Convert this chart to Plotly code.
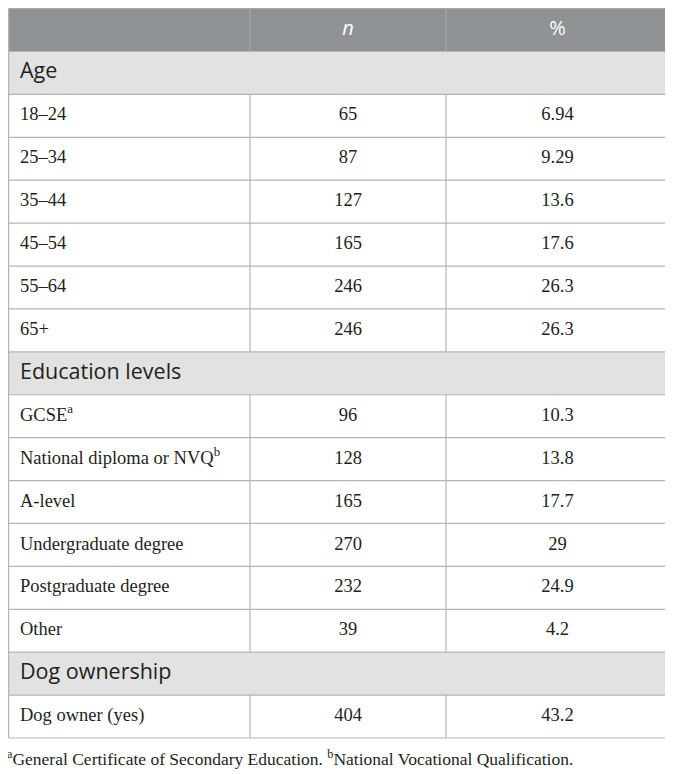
import plotly.graph_objects as go

# table content
header = ["", "<i>n</i>", "%"]
labels = ["Age", "18–24", "25–34", "35–44", "45–54", "55–64", "65+",
          "Education levels", "GCSE<sup>a</sup>", "National diploma or NVQ<sup>b</sup>",
          "A-level", "Undergraduate degree", "Postgraduate degree", "Other",
          "Dog ownership", "Dog owner (yes)"]
n_vals = ["", "65", "87", "127", "165", "246", "246",
          "", "96", "128", "165", "270", "232", "39",
          "", "404"]
pct_vals = ["", "6.94", "9.29", "13.6", "17.6", "26.3", "26.3",
            "", "10.3", "13.8", "17.7", "29", "24.9", "4.2",
            "", "43.2"]
section_rows = ["Age", "Education levels", "Dog ownership"]
footnote = ("<sup>a</sup>General Certificate of Secondary Education. "
            "<sup>b</sup>National Vocational Qualification.")

W, H = 673, 774
page_margin = 8  # the page body has an 8px margin, so the figure is shrunk to fit
col_edges = [8.6, 250, 446, 669]
top, bottom = 8.6, 738
text_x = 20

header_fill = "#8e9294"
section_fill = "#e1e2e1"
border = "#b3b5b5"
head_line = "#a5a8a9"
ink = "#231f20"

n_rows = len(labels) + 1  # + header
row_h = (bottom - top) / n_rows
row_top = [top + row_h * i for i in range(n_rows + 1)]
is_sec = [lab in section_rows for lab in labels]

fig = go.Figure()
shapes = []

# fills
shapes.append(dict(type="rect", x0=col_edges[0], x1=col_edges[-1], y0=row_top[0], y1=row_top[1],
                   fillcolor=header_fill, line_width=0, layer="below"))
for i, s in enumerate(is_sec):
    if s:
        shapes.append(dict(type="rect", x0=col_edges[0], x1=col_edges[-1],
                           y0=row_top[i + 1], y1=row_top[i + 2],
                           fillcolor=section_fill, line_width=0, layer="below"))

# horizontal rules
for k, y in enumerate(row_top):
    c = head_line if k == 0 else border
    shapes.append(dict(type="line", x0=col_edges[0], x1=col_edges[-1], y0=y, y1=y,
                       line=dict(color=c, width=1.2)))

# vertical rules: outer edges full height, inner ones skip section rows
for x in (col_edges[0], col_edges[-1]):
    shapes.append(dict(type="line", x0=x, x1=x, y0=row_top[0], y1=row_top[-1],
                       line=dict(color=border, width=1.2)))
for x in col_edges[1:-1]:
    shapes.append(dict(type="line", x0=x, x1=x, y0=row_top[0], y1=row_top[1],
                       line=dict(color=head_line, width=1.2)))
    for i, s in enumerate(is_sec):
        if not s:
            shapes.append(dict(type="line", x0=x, x1=x, y0=row_top[i + 1], y1=row_top[i + 2],
                               line=dict(color=border, width=1.2)))

centers = [(row_top[i] + row_top[i + 1]) / 2 for i in range(n_rows)]
col_mid = [(col_edges[j] + col_edges[j + 1]) / 2 for j in range(3)]

# header text
fig.add_trace(go.Scatter(
    x=col_mid[1:], y=[centers[0]] * 2, text=header[1:], mode="text",
    textposition="middle center",
    textfont=dict(family="Open Sans", size=20, color="white"),
))

# section labels
sec_y = [centers[i + 1] for i, s in enumerate(is_sec) if s]
sec_t = [lab for lab in labels if lab in section_rows]
fig.add_trace(go.Scatter(
    x=[text_x] * len(sec_t), y=sec_y, text=sec_t, mode="text",
    textposition="middle right",
    textfont=dict(family="Open Sans", size=21.5, color=ink),
))

# data rows
dat_idx = [i for i, s in enumerate(is_sec) if not s]
dat_y = [centers[i + 1] for i in dat_idx]
serif = dict(family="Liberation Serif", size=18.5, color=ink)
fig.add_trace(go.Scatter(
    x=[text_x] * len(dat_idx), y=dat_y, text=[labels[i] for i in dat_idx],
    mode="text", textposition="middle right", textfont=serif,
))
fig.add_trace(go.Scatter(
    x=[col_mid[1]] * len(dat_idx), y=dat_y, text=[n_vals[i] for i in dat_idx],
    mode="text", textposition="middle center", textfont=serif,
))
fig.add_trace(go.Scatter(
    x=[col_mid[2]] * len(dat_idx), y=dat_y, text=[pct_vals[i] for i in dat_idx],
    mode="text", textposition="middle center", textfont=serif,
))

fig.add_annotation(
    text=footnote, x=col_edges[0], y=row_top[-1] + 20, xref="x", yref="y",
    xanchor="left", yanchor="middle", showarrow=False, xshift=-4,
    font=dict(family="Liberation Serif", size=17.5, color=ink),
)

fig.update_layout(
    width=W - page_margin, height=H - page_margin,
    margin=dict(l=0, r=0, t=0, b=0),
    paper_bgcolor="white", plot_bgcolor="white",
    shapes=shapes, showlegend=False, hovermode=False,
    xaxis=dict(range=[page_margin, W], visible=False, fixedrange=True),
    yaxis=dict(range=[H, page_margin], visible=False, fixedrange=True),
)

fig.write_html("out.html")
